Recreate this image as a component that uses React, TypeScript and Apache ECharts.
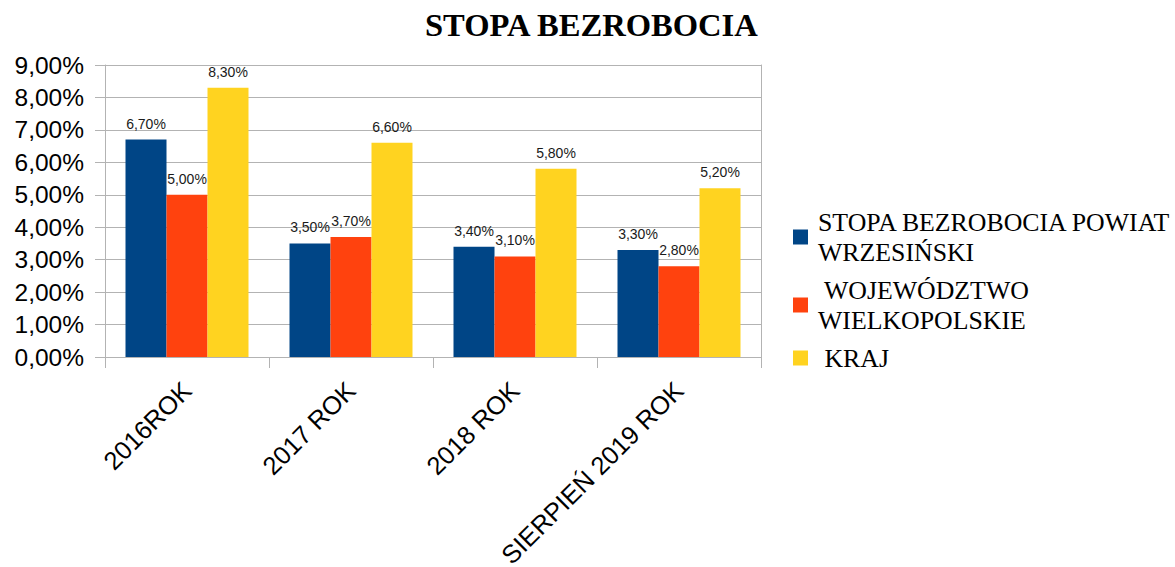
import React, { useEffect, useRef } from "react";
import * as echarts from "echarts";

const categories = ["2016ROK", "2017 ROK", "2018 ROK", "SIERPIEŃ 2019 ROK"];
const seriesNames = [
  "STOPA BEZROBOCIA POWIAT\nWRZESIŃSKI",
  " WOJEWÓDZTWO\nWIELKOPOLSKIE",
  " KRAJ",
];
const powiatValues = [6.7, 3.5, 3.4, 3.3];
const wojewodztwoValues = [5.0, 3.7, 3.1, 2.8];
const krajValues = [8.3, 6.6, 5.8, 5.2];
const colors = ["#004586", "#ff420e", "#ffd320"];
const yMin = 0;
const yMax = 9;
const yInterval = 1;
const titleText = "STOPA BEZROBOCIA";

const fmtPct = (v: number) => v.toFixed(2).replace(".", ",") + "%";

export default function App() {
  const ref = useRef<HTMLDivElement>(null);
  useEffect(() => {
    document.body.style.margin = "0";
    const chart = echarts.init(ref.current!, null, { renderer: "svg" });
    const sans = "Liberation Sans";
    const serif = "Liberation Serif";
    const gridColor = "#b3b3b3";
    const values = [powiatValues, wojewodztwoValues, krajValues];
    const legendText = {
      fontFamily: serif,
      fontSize: 25.8,
      lineHeight: 30,
      color: "#000000",
    };
    chart.setOption({
      animation: false,
      backgroundColor: "#ffffff",
      title: {
        text: titleText,
        left: 425,
        top: 8,
        padding: 0,
        textStyle: {
          fontFamily: serif,
          fontWeight: "bold",
          fontSize: 32.6,
          color: "#000000",
        },
      },
      legend: {
        orient: "vertical",
        left: 793,
        top: 207,
        padding: 0,
        itemGap: 8,
        itemWidth: 15,
        itemHeight: 15,
        icon: "rect",
        textStyle: { ...legendText, padding: [15, 0, -15, 5] },
        data: seriesNames.map((n, i) =>
          i === 2
            ? { name: n, textStyle: { ...legendText, padding: [0, 0, 0, 5] } }
            : { name: n }
        ),
      },
      grid: {
        left: 105,
        right: 414,
        top: 65,
        bottom: 210,
        containLabel: false,
        outerBoundsMode: "none",
      },
      xAxis: {
        type: "category",
        data: categories,
        boundaryGap: true,
        axisLine: { show: true, lineStyle: { color: gridColor, width: 1 } },
        axisTick: {
          show: true,
          length: 11,
          alignWithLabel: false,
          lineStyle: { color: gridColor },
        },
        axisLabel: {
          interval: 0,
          rotate: 45,
          margin: 29,
          fontFamily: sans,
          fontSize: 25.5,
          color: "#000000",
        },
        splitLine: { show: false },
      },
      yAxis: [
        {
          type: "value",
          min: yMin,
          max: yMax,
          interval: yInterval,
          axisLine: { show: true, lineStyle: { color: gridColor, width: 1 } },
          axisTick: { show: true, length: 10, lineStyle: { color: gridColor } },
          axisLabel: {
            margin: 21,
            fontFamily: sans,
            fontSize: 24.5,
            color: "#000000",
            formatter: (v: number) => fmtPct(v),
          },
          splitLine: { show: true, lineStyle: { color: gridColor, width: 1 } },
        },
        {
          type: "value",
          position: "right",
          min: yMin,
          max: yMax,
          interval: yInterval,
          axisLine: { show: true, lineStyle: { color: gridColor, width: 1 } },
          axisTick: { show: false },
          axisLabel: { show: false },
          splitLine: { show: false },
        },
      ],
      series: seriesNames.map((n, i) => ({
        name: n,
        type: "bar",
        yAxisIndex: 0,
        data: values[i],
        barGap: "0%",
        barCategoryGap: "25%",
        itemStyle: { color: colors[i] },
        label: {
          show: true,
          position: "top",
          distance: 9,
          fontFamily: sans,
          fontSize: 14,
          color: "#1a1a1a",
          formatter: (p: any) => fmtPct(p.value),
        },
      })),
    });
    return () => chart.dispose();
  }, []);
  return <div ref={ref} style={{ width: 1175, height: 567 }} />;
}
